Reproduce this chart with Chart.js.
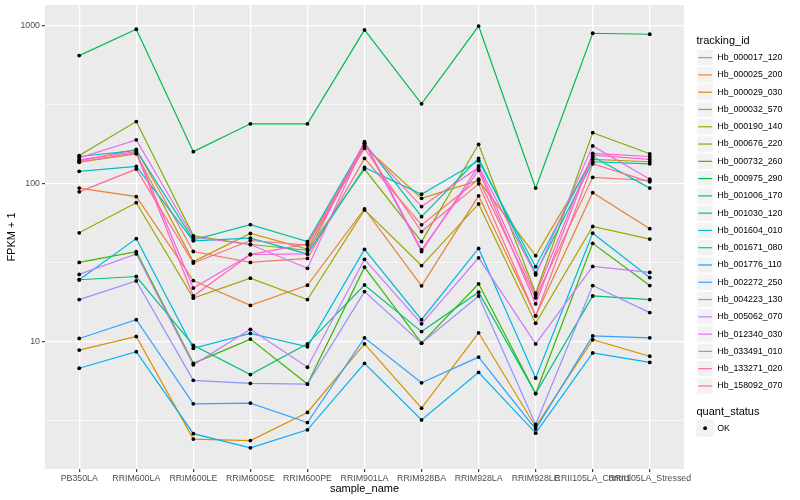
<!DOCTYPE html>
<html>
<head>
<meta charset="utf-8">
<script src="https://cdn.jsdelivr.net/npm/chart.js@4.4.0/dist/chart.umd.min.js"></script>
<style>
  html, body { margin: 0; padding: 0; background: #fff; }
</style>
</head>
<body>
<canvas id="fpkmChart" width="800" height="500"></canvas>
<script>
// samples on the x axis
const samples = ['PB350LA', 'RRIM600LA', 'RRIM600LE', 'RRIM600SE', 'RRIM600PE', 'RRIM901LA',
  'RRIM928BA', 'RRIM928LA', 'RRIM928LE', 'RRII105LA_Control', 'RRII105LA_Stressed'];

const trackingIds = ['Hb_000017_120', 'Hb_000025_200', 'Hb_000029_030', 'Hb_000032_570', 'Hb_000190_140',
  'Hb_000676_220', 'Hb_000732_260', 'Hb_000975_290', 'Hb_001006_170', 'Hb_001030_120',
  'Hb_001604_010', 'Hb_001671_080', 'Hb_001776_110', 'Hb_002272_250', 'Hb_004223_130',
  'Hb_005062_070', 'Hb_012340_030', 'Hb_033491_010', 'Hb_133271_020', 'Hb_158092_070'];

// ggplot default hue palette, 20 levels
const lineColors = ['#F8766D', '#EA8331', '#D89000', '#C09B00', '#A3A500', '#7CAE00', '#39B600', '#00BB4E',
  '#00BF7D', '#00C1A3', '#00BFC4', '#00BAE0', '#00B0F6', '#35A2FF', '#9590FF', '#C77CFF',
  '#E76BF3', '#FA62DB', '#FF62BC', '#FF6C91'];

// FPKM + 1, one array per gene, in sample order
const fpkm_000017_120 = [140, 165, 37.3, 31.8, 33.7, 145, 55, 107, 19, 110, 105];
const fpkm_000025_200 = [94, 83, 24.4, 17, 22.8, 69.4, 22.6, 84, 14.6, 88, 52];
const fpkm_000029_030 = [8.86, 10.8, 2.42, 2.37, 3.57, 9.7, 3.8, 11.4, 2.9, 10.3, 8.1];
const fpkm_000032_570 = [137, 155, 32.2, 48.5, 38.7, 172, 81, 105, 35.1, 143, 138];
const fpkm_000190_140 = [49, 76, 18.9, 25.3, 18.5, 68.4, 30.4, 74.6, 13.1, 53.7, 44.7];
const fpkm_000676_220 = [151, 248, 46.9, 41.3, 38, 124, 43.1, 178, 20.3, 211, 155];
const fpkm_000732_260 = [31.8, 37.2, 7.3, 10.4, 5.4, 29.7, 9.8, 23.3, 4.7, 42, 22.7];
const fpkm_000975_290 = [649, 953, 160, 240, 240, 944, 321, 998, 94, 899, 886];
const fpkm_001006_170 = [24.7, 25.9, 9.5, 6.2, 9.7, 22.9, 11.6, 20.6, 4.7, 19.5, 18.5];
const fpkm_001030_120 = [149, 163, 44.2, 55.2, 43.1, 181, 62, 145, 27.2, 138, 134];
const fpkm_001604_010 = [120, 129, 43.6, 45.3, 36, 127, 86, 140, 29.9, 149, 94];
const fpkm_001671_080 = [24.7, 45, 9.1, 11.3, 9.3, 38.5, 13.8, 39, 5.9, 48.7, 25.5];
const fpkm_001776_110 = [6.8, 8.65, 2.62, 2.13, 2.77, 7.3, 3.2, 6.4, 2.64, 8.5, 7.4];
const fpkm_002272_250 = [10.5, 13.8, 4.05, 4.09, 3.08, 10.6, 5.5, 8.0, 2.8, 10.9, 10.6];
const fpkm_004223_130 = [18.5, 24.3, 5.7, 5.45, 5.4, 20.8, 9.8, 19.5, 3.0, 22.7, 15.3];
const fpkm_005062_070 = [26.7, 36, 7.15, 12, 6.9, 33.3, 13, 34, 9.7, 30, 27.5];
const fpkm_012340_030 = [146, 190, 45.9, 41.3, 29.2, 181, 37.3, 130, 26.5, 174, 107];
const fpkm_033491_010 = [142, 160, 21.9, 35.7, 36, 185, 38.2, 122, 17.4, 152, 143];
const fpkm_133271_020 = [138, 157, 19.5, 35.7, 41.7, 176, 71.8, 127, 19.8, 156, 149];
const fpkm_158092_070 = [89, 124, 31.5, 43.8, 41, 168, 49.9, 100, 14.6, 134, 103];

const seriesValues = [fpkm_000017_120, fpkm_000025_200, fpkm_000029_030, fpkm_000032_570, fpkm_000190_140,
  fpkm_000676_220, fpkm_000732_260, fpkm_000975_290, fpkm_001006_170, fpkm_001030_120,
  fpkm_001604_010, fpkm_001671_080, fpkm_001776_110, fpkm_002272_250, fpkm_004223_130,
  fpkm_005062_070, fpkm_012340_030, fpkm_033491_010, fpkm_133271_020, fpkm_158092_070];

const yMajorTicks = [10, 100, 1000];
const yMinorTicks = [3.1623, 31.623, 316.23];

const FONT = '"Liberation Sans", Arial, Helvetica, sans-serif';
Chart.defaults.font.family = FONT;

// grey panel behind the grid
const panelBackground = {
  id: 'panelBackground',
  beforeDraw(chart) {
    const { ctx, chartArea: a } = chart;
    ctx.save();
    ctx.fillStyle = '#ffffff';
    ctx.fillRect(0, 0, chart.width, chart.height);
    ctx.fillStyle = '#EBEBEB';
    ctx.fillRect(a.left, a.top, a.right - a.left, a.bottom - a.top);
    ctx.restore();
  }
};

// ggplot style legends on the right
const ggLegend = {
  id: 'ggLegend',
  afterDraw(chart) {
    const ctx = chart.ctx;
    const x0 = 696.5, key = 17.28;
    ctx.save();
    ctx.textBaseline = 'middle';
    ctx.textAlign = 'left';
    ctx.fillStyle = '#000';
    ctx.font = '11px ' + FONT;
    ctx.fillText('tracking_id', x0, 40.5);
    let y = 49;
    trackingIds.forEach((id, i) => {
      ctx.fillStyle = '#F2F2F2';
      ctx.fillRect(x0, y, key, key);
      ctx.strokeStyle = '#ffffff';
      ctx.lineWidth = 1;
      ctx.strokeRect(x0 + 0.5, y + 0.5, key - 1, key - 1);
      ctx.strokeStyle = lineColors[i];
      ctx.lineWidth = 1.2;
      ctx.beginPath();
      ctx.moveTo(x0 + 1.7, y + key / 2);
      ctx.lineTo(x0 + key - 1.7, y + key / 2);
      ctx.stroke();
      ctx.fillStyle = '#000';
      ctx.font = '8.8px ' + FONT;
      ctx.fillText(id, x0 + key + 3.5, y + key / 2);
      y += key;
    });

    ctx.font = '11px ' + FONT;
    ctx.fillText('quant_status', x0, 411.5);
    const ky = 419.5;
    ctx.fillStyle = '#F2F2F2';
    ctx.fillRect(x0, ky, key, key);
    ctx.fillStyle = '#000';
    ctx.beginPath();
    ctx.arc(x0 + key / 2, ky + key / 2, 1.9, 0, Math.PI * 2);
    ctx.fill();
    ctx.font = '8.8px ' + FONT;
    ctx.fillText('OK', x0 + key + 3.5, ky + key / 2);
    ctx.restore();
  }
};

const lineSets = seriesValues.map((vals, i) => ({
  label: trackingIds[i],
  data: vals.map((v, j) => ({ x: j, y: v })),
  borderColor: lineColors[i],
  backgroundColor: lineColors[i],
  borderWidth: 1.2,
  pointRadius: 0,
  fill: false,
  tension: 0,
  order: -i
}));

const pointSet = {
  label: 'OK',
  data: seriesValues.flatMap(vals => vals.map((v, j) => ({ x: j, y: v }))),
  showLine: false,
  pointRadius: 1.9,
  pointBackgroundColor: '#000',
  pointBorderWidth: 0,
  order: -100
};

const isMajor = c => c.tick && yMajorTicks.includes(c.tick.value);

new Chart(document.getElementById('fpkmChart'), {
  type: 'line',
  data: { datasets: [...lineSets, pointSet] },
  options: {
    responsive: false,
    animation: false,
    layout: { padding: { left: 0, right: 116, top: 5, bottom: 0 } },
    plugins: { legend: { display: false }, tooltip: { enabled: false } },
    scales: {
      x: {
        type: 'linear',
        min: -0.6,
        max: 10.6,
        bounds: 'data',
        afterBuildTicks: s => { s.ticks = samples.map((_, j) => ({ value: j })); },
        afterFit: s => { s.height = 31; s.paddingLeft = 0; s.paddingRight = 0; },
        ticks: {
          callback: v => samples[v],
          autoSkip: false,
          maxRotation: 0,
          minRotation: 0,
          color: '#4D4D4D',
          font: { size: 8.8 },
          padding: 1
        },
        grid: { color: '#ffffff', lineWidth: 1.3, tickLength: 3, tickColor: '#333333', tickWidth: 1.1 },
        border: { display: false },
        title: { display: true, text: 'sample_name', color: '#000', font: { size: 11 }, padding: { top: 0, bottom: 4 } }
      },
      y: {
        type: 'logarithmic',
        min: 1.565,
        max: 1357,
        bounds: 'data',
        afterBuildTicks: s => {
          s.ticks = [...yMinorTicks, ...yMajorTicks].sort((a, b) => a - b).map(v => ({ value: v }));
        },
        afterFit: s => { s.width = 45; s.paddingTop = 0; s.paddingBottom = 0; },
        ticks: {
          callback: v => (yMajorTicks.includes(v) ? String(v) : ''),
          autoSkip: false,
          color: '#4D4D4D',
          font: { size: 8.8 },
          padding: 2
        },
        grid: {
          color: '#ffffff',
          lineWidth: c => (isMajor(c) ? 1.3 : 0.65),
          tickLength: 3,
          tickColor: c => (isMajor(c) ? '#333333' : 'rgba(0,0,0,0)'),
          tickWidth: 1.1
        },
        border: { display: false },
        title: { display: true, text: 'FPKM + 1', color: '#000', font: { size: 11 }, padding: { top: 5, bottom: 0 } }
      }
    }
  },
  plugins: [panelBackground, ggLegend]
});
</script>
</body>
</html>
